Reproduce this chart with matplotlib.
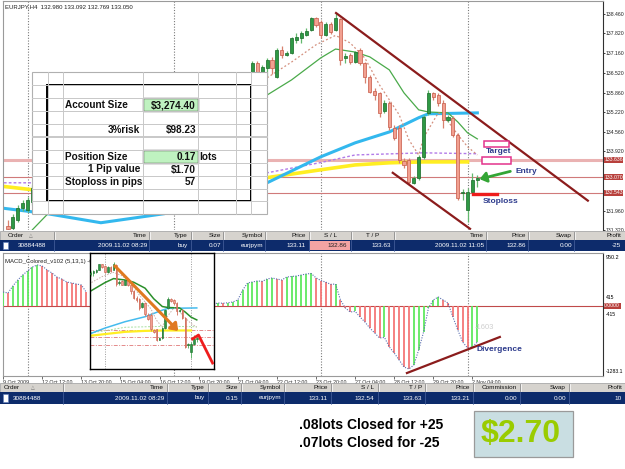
import matplotlib
matplotlib.use("Agg")
import matplotlib.pyplot as plt
import matplotlib.transforms as mtransforms
from matplotlib.patches import Rectangle, FancyArrowPatch

plt.rcParams['font.family'] = ['Liberation Sans', 'DejaVu Sans']

# ---------------- datos (velas H4 EURJPY) ----------------
candle_idx = [0, 1, 2, 3, 4, 5] + list(range(50, 97))
opens = [131.46, 131.40, 131.66, 132.06, 131.99, 132.25,
         136.41, 136.84, 136.54, 136.68, 136.94, 136.38, 137.27, 137.11, 137.17, 137.60,
         137.67, 137.77, 137.93, 138.33, 138.19, 137.77, 138.13, 137.93, 138.29, 137.01,
         137.11, 136.87, 137.27, 136.84, 136.38, 135.92, 135.85, 135.26, 135.52, 134.70,
         134.70, 133.61, 133.64, 132.88, 133.05, 133.74, 135.19, 135.85, 135.79, 135.52,
         134.96, 135.03, 134.47, 132.55, 131.99, 132.58, 132.98]
highs = [131.66, 131.86, 132.15, 132.32, 132.42, 132.81,
         136.91, 136.91, 136.77, 137.01, 137.04, 137.34, 137.40, 137.24, 137.70, 137.83,
         137.90, 138.00, 138.36, 138.36, 138.26, 138.19, 138.19, 138.49, 138.33, 137.17,
         137.17, 137.24, 137.34, 136.87, 136.45, 136.02, 135.88, 135.62, 135.59, 134.80,
         134.80, 133.71, 133.71, 133.11, 133.81, 135.13, 135.95, 135.88, 135.85, 135.62,
         135.13, 135.09, 134.53, 132.68, 132.72, 133.21, 133.15]
lows = [131.26, 131.30, 131.59, 131.96, 131.92, 132.15,
        136.28, 136.35, 136.41, 136.38, 136.48, 136.35, 137.01, 137.07, 137.14, 137.50,
        137.50, 137.73, 137.90, 138.03, 137.67, 137.73, 137.80, 137.90, 136.78, 136.84,
        136.81, 136.84, 136.78, 136.18, 135.85, 135.62, 135.06, 135.19, 134.63, 134.30,
        133.54, 133.38, 132.82, 132.85, 132.98, 133.67, 135.13, 135.62, 135.42, 134.70,
        134.89, 134.40, 132.32, 132.32, 131.59, 132.55, 132.75]
closes = [131.36, 131.76, 132.06, 132.22, 132.32, 132.72,
          136.84, 136.54, 136.71, 136.94, 136.68, 137.27, 137.11, 137.17, 137.67, 137.70,
          137.83, 137.90, 138.33, 138.10, 137.77, 138.13, 137.86, 138.33, 136.94, 137.07,
          136.87, 137.20, 136.84, 136.38, 135.88, 135.78, 135.19, 135.52, 134.73, 134.37,
          133.64, 133.48, 132.91, 133.05, 133.74, 135.06, 135.85, 135.72, 135.52, 134.96,
          135.06, 134.47, 132.39, 132.58, 132.58, 132.98, 133.05]

# medias moviles (indice de vela, precio)
cyan_idx = [-2, 5, 8, 19, 32, 53, 64, 71, 78, 84, 86, 96]
cyan_px = [132.06, 131.92, 131.86, 131.56, 131.86, 132.88, 133.74, 134.20, 134.56, 135.03, 135.16, 135.19]
yellow_idx = [-2, 5, 53, 64, 71, 78, 85, 94]
yellow_px = [132.78, 132.65, 133.05, 133.31, 133.47, 133.54, 133.57, 133.57]
purple_idx = [-2, 5, 53, 64, 71, 85, 96]
purple_px = [132.88, 132.88, 133.21, 133.55, 133.80, 133.87, 133.84]
green_idx = [5, 8, 53, 58, 64, 67, 71, 74, 78, 81, 84, 86, 90, 92, 94, 96]
green_px = [131.33, 131.83, 135.78, 136.28, 137.01, 137.30, 137.20, 137.04, 136.61, 135.85,
            135.29, 135.22, 135.19, 134.89, 134.53, 134.33]
dotted_idx = [53, 58, 63, 67, 70, 73, 76, 80, 82, 84, 85, 88, 89, 92, 94, 96]
dotted_px = [136.35, 136.87, 137.44, 137.75, 137.50, 137.00, 136.11, 135.13, 134.30, 133.80,
             134.37, 135.19, 135.13, 134.47, 134.07, 133.80]

levels = [133.636, 133.070, 132.543]
price_ticks = [138.46, 137.82, 137.16, 136.52, 135.86, 135.22, 134.56, 133.92, 131.96, 131.32]
week_sep = [4, 34, 64, 94]

time_idx = [-1, 7, 15, 23, 31, 39, 47, 55, 63, 71, 79, 87, 95]
time_labels = ['9 Oct 2009', '12 Oct 12:00', '13 Oct 20:00', '15 Oct 04:00', '16 Oct 12:00',
               '19 Oct 20:00', '21 Oct 04:00', '22 Oct 12:00', '23 Oct 20:00', '27 Oct 04:00',
               '28 Oct 12:00', '29 Oct 20:00', '2 Nov 04:00']

macd_idx = list(range(-1, 17)) + list(range(42, 97))
macd_val = [258, 240, 369, 480, 572, 646, 720, 757, 738, 665, 609, 535, 498, 443, 425, 406, 388, 258,
            37, 55, 50, 60, 74, 111, 295, 425, 443, 462, 455, 498, 517, 498, 480, 535, 545, 554,
            572, 591, 600, 520, 470, 440, 400, 405, 111, -37, -111, -100, -203, -295, -406, -498,
            -591, -580, -757, -868, -997, -1126, -1163, -1089, -812, -480, -37, 111, 166, 111, 55,
            -203, -443, -665, -775, -757, -665]

# dibujos del analista
upper_trend_idx = [67.1, 118.6]
upper_trend_px = [138.49, 132.29]
lower_trend_idx = [78.7, 94.5]
lower_trend_px = [133.21, 131.36]
target_zones = [(97.3, 102.4, 134.07, 134.27), (96.9, 102.9, 133.51, 133.74)]
stop_idx = [95.1, 100.0]
stop_px = 132.52
entry_from = (103.3, 133.28)
entry_to = (95.9, 132.98)
divergence_idx = [81.6, 100.6]
divergence_val = [-1237, -572]
inset_arrow = ((66.8, 138.35), (90.2, 133.39))
inset_proj_idx = [94.5, 96.6, 101.5]
inset_proj_px = [132.96, 133.24, 131.23]

# hoja de calculo
sheet_labels = ['Account Size', '3%risk', 'Position Size', '1 Pip value', 'Stoploss in pips']
sheet_values = ['$3,274.40', '$98.23', '0.17', '$1.70', '57']

# tablas de ordenes
t1_header = ['Order', 'Time', 'Type', 'Size', 'Symbol', 'Price', 'S / L', 'T / P', 'Time', 'Price', 'Swap', 'Profit']
t1_row = ['30884488', '2009.11.02 08:29', 'buy', '0.07', 'eurjpym', '133.11', '132.86', '133.63',
          '2009.11.02 11:05', '132.86', '0.00', '-25']
t2_header = ['Order', 'Time', 'Type', 'Size', 'Symbol', 'Price', 'S / L', 'T / P', 'Price', 'Commission', 'Swap', 'Profit']
t2_row = ['30884488', '2009.11.02 08:29', 'buy', '0.15', 'eurjpym', '133.11', '132.54', '133.63',
          '133.21', '0.00', '0.00', '10']

# ---------------- figura ----------------
W, H = 625, 469
fig = plt.figure(figsize=(W / 100, H / 100), dpi=100)
fig.patch.set_facecolor('white')


def px_axes(x0, y0, x1, y1):
    # ejes colocados en pixeles de pantalla (origen arriba a la izquierda)
    return fig.add_axes([x0 / W, 1 - y1 / H, (x1 - x0) / W, (y1 - y0) / H])


XLIM = (-1.02, 121.7)
G_BODY, G_EDGE, G_WICK = '#2e9944', '#1f6f2f', '#63b86e'
R_BODY, R_EDGE, R_WICK = '#f2a090', '#c9604f', '#d8826f'


def draw_candles(ax, width, lw):
    for i, o, h, l, c in zip(candle_idx, opens, highs, lows, closes):
        up = c >= o
        ax.vlines(i, l, h, color=G_WICK if up else R_WICK, lw=lw, zorder=3)
        ax.bar(i, max(abs(c - o), 0.02), bottom=min(o, c), width=width,
               color=G_BODY if up else R_BODY, edgecolor=G_EDGE if up else R_EDGE,
               lw=lw * 0.6, zorder=4)


# ---- grafico de precios ----
ax = px_axes(3, 1, 603, 230)
ax.set_xlim(*XLIM)
ax.set_ylim(131.33, 138.887)
for s in week_sep:
    ax.axvline(s, color='#7a7a7a', ls=(0, (1, 1.5)), lw=0.8, zorder=1)
ax.axhline(levels[0], color='#eab2b2', lw=2.2, zorder=1)
ax.axhline(levels[1], color='#d07a7a', lw=0.8, zorder=1)
ax.axhline(levels[2], color='#d07a7a', lw=0.8, zorder=1)
ax.plot(yellow_idx, yellow_px, color='#ffee22', lw=2.6, zorder=2)
ax.plot(purple_idx, purple_px, color='#b27be8', lw=1, ls=(0, (2, 1.5)), zorder=2)
ax.plot(cyan_idx, cyan_px, color='#33b8ee', lw=2.2, zorder=2)
ax.plot(green_idx, green_px, color='#4aaa4a', lw=0.9, zorder=2)
ax.plot(dotted_idx, dotted_px, color='#d4907e', lw=0.9, ls=(0, (1.5, 1.8)), zorder=2)
draw_candles(ax, 0.62, 0.9)
ax.plot(upper_trend_idx, upper_trend_px, color='#8b1c1c', lw=1.6, zorder=5)
ax.plot(lower_trend_idx, lower_trend_px, color='#8b1c1c', lw=1.6, zorder=5)
for x0, x1, y0, y1 in target_zones:
    ax.add_patch(Rectangle((x0, y0), x1 - x0, y1 - y0, facecolor='white',
                           edgecolor='#e3338c', lw=1.1, zorder=6))
ax.plot(stop_idx, [stop_px, stop_px], color='#ee1c1c', lw=2.4, zorder=6)
ax.add_patch(FancyArrowPatch(entry_from, entry_to, arrowstyle='-|>,head_length=4,head_width=3',
                             color='#33a535', lw=2, zorder=7))
ax.text(100.4, 133.90, 'Target', color='#2c3a8c', fontsize=6, weight='bold', ha='center', va='center', zorder=7)
ax.text(106.0, 133.25, 'Entry', color='#2c3a8c', fontsize=6, weight='bold', ha='center', va='center', zorder=7)
ax.text(100.8, 132.25, 'Stoploss', color='#2c3a8c', fontsize=6, weight='bold', ha='center', va='center', zorder=7)
ax.set_xticks([])
ax.yaxis.tick_right()
ax.set_yticks(price_ticks)
ax.set_yticklabels(['%.3f' % t for t in price_ticks])
ax.tick_params(axis='y', labelsize=3.7, length=1.5, width=0.6, pad=0.5, colors='#202020')
for side in ['top', 'left']:
    ax.spines[side].set_color('#9a9a9a')
ax.spines['right'].set_color('#303030')
ax.spines['bottom'].set_visible(False)
tr = mtransforms.blended_transform_factory(ax.transAxes, ax.transData)
for lv in levels:
    ax.text(1.002, lv, '%.3f' % lv, transform=tr, fontsize=3.7, color='white', va='center', ha='left',
            bbox=dict(fc='#b8403c', ec='none', pad=0.4), zorder=8, clip_on=False)
ax.text(0.004, 0.985, 'EURJPY,H4  132.980 133.092 132.769 133.050', transform=ax.transAxes,
        fontsize=4.3, va='top', ha='left', color='#202020')

# ---- ventana MACD ----
am = px_axes(3, 253, 603, 376)
am.set_xlim(*XLIM)
am.set_ylim(-1292, 978)
for s in week_sep:
    am.axvline(s, color='#7a7a7a', ls=(0, (1, 1.5)), lw=0.8, zorder=1)
am.axhline(0, color='#c04a4a', lw=0.8, zorder=2)
prev = None
bar_cols = []
for v in macd_val:
    bar_cols.append('#5fe85f' if prev is None or v > prev else '#f47676')
    prev = v
am.vlines(macd_idx, 0, macd_val, colors=bar_cols, lw=1.3, zorder=3)
cut = macd_idx.index(42)
am.plot(macd_idx[:cut], macd_val[:cut], color='#5a6fb0', lw=0.8, ls=(0, (1, 1.3)), zorder=4)
am.plot(macd_idx[cut:], macd_val[cut:], color='#5a6fb0', lw=0.8, ls=(0, (1, 1.3)), zorder=4)
am.plot(divergence_idx, divergence_val, color='#8b1c1c', lw=1.6, zorder=5)
am.text(97.5, -400, '-1603', color='#cfcfcf', fontsize=5.5, ha='center', va='center', zorder=5)
am.text(95.8, -800, 'Divergence', color='#2c3a8c', fontsize=6, weight='bold', ha='left', va='center', zorder=6)
am.text(0.004, 0.95, 'MACD_Colored_v102 (5,13,1) -603', transform=am.transAxes,
        fontsize=4.3, va='top', ha='left', color='#202020')
am.set_yticks([])
am.set_xticks(time_idx)
am.set_xticklabels(time_labels, ha='left')
am.tick_params(axis='x', labelsize=3.8, length=2, width=0.5, pad=0.8, colors='#303030')
for side in ['top', 'left', 'bottom']:
    am.spines[side].set_color('#9a9a9a')
am.spines['right'].set_color('#303030')
trm = mtransforms.blended_transform_factory(am.transAxes, am.transData)
am.text(1.005, 0.98, '950.2', transform=am.transAxes, fontsize=3.9, va='top', ha='left')
am.text(1.004, 0.02, '-1283.1', transform=am.transAxes, fontsize=3.7, va='bottom', ha='left')
am.text(1.005, 150, '415', transform=trm, fontsize=3.6, va='center', ha='left')
am.text(1.005, -150, '-415', transform=trm, fontsize=3.6, va='center', ha='left')
am.text(1.002, 0, '0.0000', transform=trm, fontsize=3.7, color='white', va='center', ha='left',
        bbox=dict(fc='#b8403c', ec='none', pad=0.4), zorder=8, clip_on=False)

# ---- capa superior: hoja de calculo, tablas y textos ----
ov = fig.add_axes([0, 0, 1, 1])
ov.set_xlim(0, W)
ov.set_ylim(H, 0)
ov.axis('off')
ov.patch.set_alpha(0)

# hoja de calculo
ov.add_patch(Rectangle((32, 72), 235, 142, facecolor='white', edgecolor='#b0b0b0', lw=0.8))
for gx in [48, 63, 143, 198, 236, 251]:
    ov.plot([gx, gx], [72, 214], color='#c8c8c8', lw=0.7)
for gy in [85, 98, 111, 124, 137, 150, 163, 176, 189, 201]:
    ov.plot([32, 267], [gy, gy], color='#c8c8c8', lw=0.7)
ov.plot([32, 267], [136, 136], color='#c8c8c8', lw=0.7)
ov.add_patch(Rectangle((47, 85), 204, 116, fill=False, edgecolor='black', lw=1.4))
for gy in [98, 150]:
    ov.add_patch(Rectangle((143, gy), 55, 13, facecolor='#bff2c0', edgecolor='black', lw=0.9))
rows_y = [105, 130, 157, 169.5, 182]
label_align = ['left', 'right', 'left', 'right', 'left']
for lab, val, yy, al in zip(sheet_labels, sheet_values, rows_y, label_align):
    ov.text(65 if al == 'left' else 140, yy, lab, ha=al, va='center', fontsize=7.2,
            weight='bold', color='#111111')
    ov.text(196, yy, val, ha='right', va='center', fontsize=7.2, weight='bold', color='#111111')
ov.text(199, 157, 'lots', ha='left', va='center', fontsize=7.2, weight='bold', color='#111111')


def draw_table(y0, y1, y2, seps, header, row, head_ha, head_x, row_x, pink=None):
    ov.add_patch(Rectangle((0, y0), W, y1 - y0, facecolor='#d6d3ce', edgecolor='#a8a8a8', lw=0.6))
    ov.add_patch(Rectangle((0, y1), W, y2 - y1, facecolor='#0d2b6b', edgecolor='none'))
    if pink is not None:
        ov.add_patch(Rectangle((pink[0], y1 + 0.8), pink[1] - pink[0], y2 - y1 - 1.6,
                               facecolor='#f3a3a3', edgecolor='none'))
    for sx in seps:
        ov.plot([sx, sx], [y0 + 1, y1 - 1], color='#8c8c8c', lw=0.6)
        ov.plot([sx + 1, sx + 1], [y0 + 1, y1 - 1], color='white', lw=0.5)
        ov.plot([sx, sx], [y1, y2], color='#4a64a0', lw=0.5)
    for txt, ha, hx in zip(header, head_ha, head_x):
        ov.text(hx, (y0 + y1) / 2, txt, ha=ha, va='center', fontsize=4.6, color='#101010')
    ov.add_patch(Rectangle((3, y1 + 2), 5, y2 - y1 - 4, facecolor='white', edgecolor='#6080c0', lw=0.4))
    for k, (txt, rx) in enumerate(zip(row, row_x)):
        col = 'white'
        if pink is not None and pink[0] < rx <= pink[1]:
            col = '#202020'
        ov.text(rx, (y1 + y2) / 2, txt, ha='left' if k == 0 else 'right', va='center',
                fontsize=4.6, color=col)


seps1 = [54, 149, 191, 223, 265, 309, 351, 394, 486, 528, 574]
ha1 = ['left'] + ['right'] * 5 + ['center', 'center'] + ['right'] * 4
hx1 = [8, 147, 188, 221, 263, 306, 330, 373, 484, 526, 572, 621]
rx1 = [18, 147, 188, 221, 263, 306, 347, 391, 484, 526, 572, 621]
draw_table(231, 240, 251, seps1, t1_header, t1_row, ha1, hx1, rx1, pink=(310, 350))
ov.text(31, 235.5, '\u25b3', fontsize=3.5, ha='center', va='center', color='#707070')

seps2 = [63, 167, 208, 241, 284, 331, 378, 425, 473, 520, 569]
ha2 = ['left'] + ['right'] * 11
hx2 = [4, 164, 205, 238, 281, 328, 374, 422, 470, 517, 566, 622]
rx2 = [13, 164, 205, 238, 281, 328, 374, 422, 470, 517, 566, 622]
draw_table(383, 392, 404, seps2, t2_header, t2_row, ha2, hx2, rx2)
ov.text(33, 387.5, '\u25b3', fontsize=3.5, ha='center', va='center', color='#707070')

# resumen del resultado
ov.text(299, 425, '.08lots Closed for +25', fontsize=10, weight='bold', ha='left', va='center')
ov.text(299, 443, '.07lots Closed for -25', fontsize=10, weight='bold', ha='left', va='center')
ov.add_patch(Rectangle((474, 411), 99, 46, facecolor='#c9dee2', edgecolor='#9a9a9a', lw=0.9))
ov.text(521, 434, '$2.70', fontsize=23, weight='bold', color='#9acc00', ha='center', va='center')

# ---- recuadro con captura ampliada ----
ix = px_axes(90, 253, 214, 369)
ix.set_xlim(58.8, 102.0)
ix.set_ylim(130.80, 139.14)
ix.set_facecolor('white')
for s in [64, 94]:
    ix.axvline(s, color='#9a9a9a', ls=(0, (1, 1.5)), lw=0.7, zorder=1)
for lv in levels:
    ix.axhline(lv, color='#e48a8a', lw=0.7, ls=(0, (4, 1.5, 1, 1.5)), zorder=1)
ix.plot(yellow_idx, yellow_px, color='#ffee22', lw=1.6, zorder=2)
ix.plot(purple_idx, purple_px, color='#a8e0a0', lw=0.7, ls=(0, (2, 1.5)), zorder=2)
ix.plot(cyan_idx, cyan_px, color='#44bbee', lw=1.1, zorder=2)
ix.plot(green_idx, green_px, color='#2a8f2a', lw=1.1, zorder=2)
ix.plot(dotted_idx, dotted_px, color='#c8b0a8', lw=0.7, ls=(0, (1.5, 1.5)), zorder=2)
draw_candles(ix, 0.55, 0.7)
ix.add_patch(FancyArrowPatch(inset_arrow[0], inset_arrow[1], arrowstyle='-|>,head_length=4,head_width=3',
                             color='#e07a20', lw=2.2, zorder=6))
ix.plot(inset_proj_idx, inset_proj_px, color='#ee1c1c', lw=2, zorder=6, clip_on=True)
ix.set_xticks([])
ix.set_yticks([])
for sp in ix.spines.values():
    sp.set_color('black')
    sp.set_linewidth(1)

fig.savefig('out.png', dpi=100, facecolor='white')
